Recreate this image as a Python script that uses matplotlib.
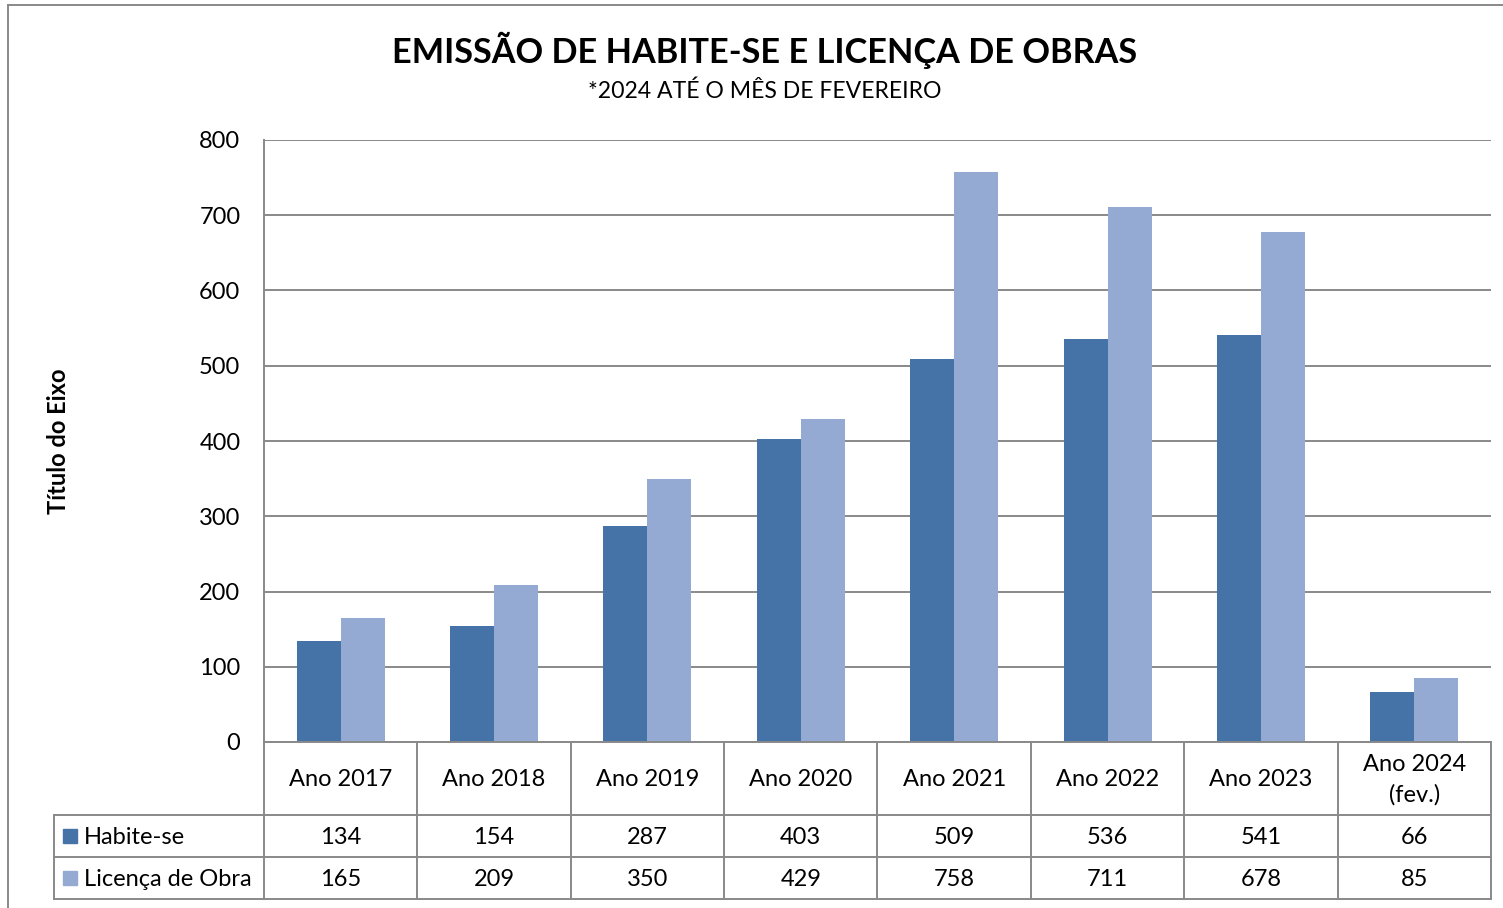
import numpy as np
import matplotlib
matplotlib.use("Agg")
import matplotlib.pyplot as plt
from matplotlib.lines import Line2D

plt.rcParams['font.family'] = ['Lato', 'DejaVu Sans']

# data
categorias = ['Ano 2017', 'Ano 2018', 'Ano 2019', 'Ano 2020', 'Ano 2021',
              'Ano 2022', 'Ano 2023', 'Ano 2024\n(fev.)']
habite_se = [134, 154, 287, 403, 509, 536, 541, 66]
licenca_obra = [165, 209, 350, 429, 758, 711, 678, 85]
series_nomes = ['Habite-se', 'Licença de Obra']
cores = ['#4573A7', '#95AAD2']
grade = '#898989'

W, H = 1503, 908
fig = plt.figure(figsize=(W / 100, H / 100), dpi=100)

# plot area in pixels
px_l, px_r, px_t, px_b = 264, 1491, 140, 742
ax = fig.add_axes([px_l / W, 1 - px_b / H, (px_r - px_l) / W, (px_b - px_t) / H])

x = np.arange(len(categorias))
larg = 0.287
ax.bar(x - larg / 2, habite_se, larg, color=cores[0], zorder=3)
ax.bar(x + larg / 2, licenca_obra, larg, color=cores[1], zorder=3)

ax.set_xlim(-0.5, len(categorias) - 0.5)
ax.set_ylim(0, 800)
ax.set_yticks(np.arange(0, 801, 100))
ax.set_xticks([])
ax.yaxis.grid(True, color=grade, lw=1.4, zorder=0)
ax.tick_params(axis='y', length=0, pad=17, labelsize=17)
for s in ['top', 'right', 'bottom']:
    ax.spines[s].set_visible(False)
ax.spines['left'].set_color(grade)
ax.spines['left'].set_linewidth(1.4)
ax.set_ylabel('Título do Eixo', fontsize=17, fontweight='bold')
ax.yaxis.set_label_coords((70 - px_l) / (px_r - px_l), 0.5)

# data table below the plot
colw = (px_r - px_l) / len(categorias)
tab_l, tab_b = 54, 899
ax_t = fig.add_axes([tab_l / W, 1 - tab_b / H, (px_r - tab_l) / W, (tab_b - px_b) / H])
x_esq = -0.5 - (px_l - tab_l) / colw
ax_t.set_xlim(x_esq, len(categorias) - 0.5)
ax_t.set_ylim(157, 0)
ax_t.axis('off')

lk = dict(color=grade, lw=1.4, clip_on=False)
# horizontal lines
ax_t.plot([-0.5, len(categorias) - 0.5], [0, 0], **lk)
for yy in [73, 115, 157]:
    ax_t.plot([x_esq, len(categorias) - 0.5], [yy, yy], **lk)
# vertical lines
for i in range(len(categorias) + 1):
    ax_t.plot([i - 0.5, i - 0.5], [0, 157], **lk)
ax_t.plot([x_esq, x_esq], [73, 157], **lk)

for i, cat in enumerate(categorias):
    ax_t.text(i, 38, cat, ha='center', va='center', fontsize=17, linespacing=1.55)
    ax_t.text(i, 96, str(habite_se[i]), ha='center', va='center', fontsize=17)
    ax_t.text(i, 138, str(licenca_obra[i]), ha='center', va='center', fontsize=17)

for j, (nome, yy) in enumerate(zip(series_nomes, [94, 136])):
    ax_t.plot([x_esq + (70 - tab_l) / colw], [yy], marker='s', ms=10.5,
              color=cores[j], clip_on=False)
    ax_t.text(x_esq + (84 - tab_l) / colw, yy + 2, nome, ha='left', va='center', fontsize=17)

# titles
fig.text(765 / W, 1 - 50 / H, 'EMISSÃO DE HABITE-SE E LICENÇA DE OBRAS',
         ha='center', va='center', fontsize=24.7, fontweight='bold')
fig.text(765 / W, 1 - 91 / H, '*2024 ATÉ O MÊS DE FEVEREIRO',
         ha='center', va='center', fontsize=16.6)

# outer chart border (left and top)
fig.add_artist(Line2D([8 / W, 8 / W], [0, 1 - 5 / H], color=grade, lw=1.4))
fig.add_artist(Line2D([8 / W, 1], [1 - 5 / H, 1 - 5 / H], color=grade, lw=1.4))

fig.savefig('out.png', dpi=100)
